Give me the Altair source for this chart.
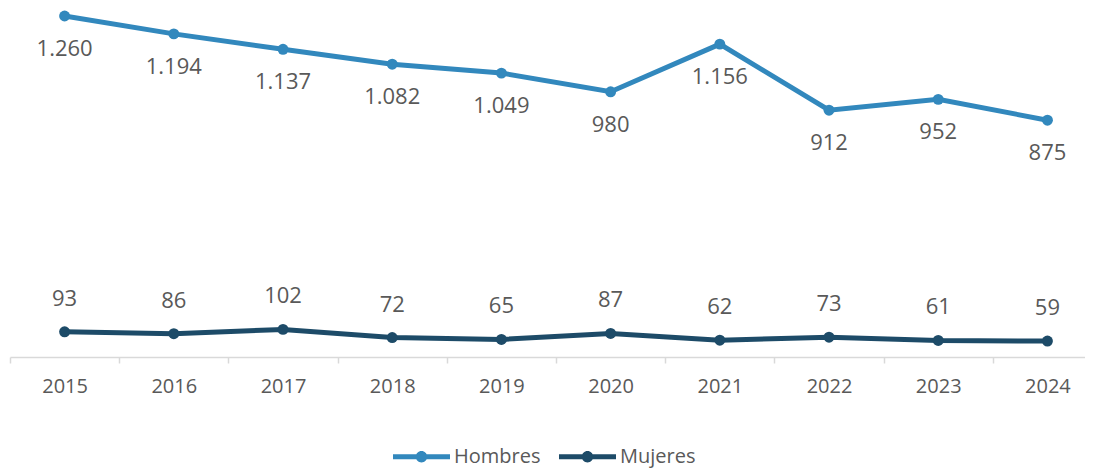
import altair as alt
import pandas as pd

years = [2015, 2016, 2017, 2018, 2019, 2020, 2021, 2022, 2023, 2024]
hombres = [1260, 1194, 1137, 1082, 1049, 980, 1156, 912, 952, 875]
mujeres = [93, 86, 102, 72, 65, 87, 62, 73, 61, 59]
series = ["Hombres", "Mujeres"]
colors = ["#3288bd", "#1d4b68"]
tick_values = [2014.5 + i * 0.5 for i in range(20)]

rows = []
for s, vals in zip(series, [hombres, mujeres]):
    for y, v in zip(years, vals):
        rows.append({"year": y, "serie": s, "value": v,
                     "label": f"{v:,}".replace(",", ".")})
df = pd.DataFrame(rows)

TEXT = "#595959"
FONT = "Open Sans"

x = alt.X("year:Q", title=None,
          scale=alt.Scale(domain=[2014.5, 2024.344], nice=False, zero=False),
          axis=alt.Axis(values=tick_values, labelOverlap=False,
                        labelExpr="(datum.value % 1 == 0) ? ('' + datum.value) : ''",
                        labelAngle=0, labelFontSize=20, labelColor=TEXT, labelFont=FONT,
                        domainColor="#d9d9d9", domainWidth=1.5, tickColor="#d9d9d9",
                        tickOpacity={"condition": {"test": "datum.value % 1 == 0",
                                                   "value": 0},
                                     "value": 1},
                        tickWidth=1.5, tickSize=6, labelPadding=13, grid=False))
y = alt.Y("value:Q", title=None, scale=alt.Scale(domain=[0, 1260], nice=False, zero=True),
          axis=None)
color_scale = alt.Scale(domain=series, range=colors)

base = alt.Chart(df)

lines = base.mark_line(strokeWidth=5).encode(
    x=x, y=y, color=alt.Color("serie:N", scale=color_scale, legend=None))

sym = ("M-1,-0.088L1,-0.088L1,0.088L-1,0.088Z "
       "M0.2,0A0.2,0.2,0,1,1,-0.2,0A0.2,0.2,0,1,1,0.2,0Z")

points = base.mark_circle(size=120, opacity=1).encode(
    x=x, y=y,
    color=alt.Color("serie:N", scale=color_scale,
                    legend=alt.Legend(title=None, orient="none", direction="horizontal",
                                      legendX=383, legendY=412,
                                      symbolType=sym, symbolSize=3249,
                                      symbolStrokeWidth=0, symbolOpacity=1,
                                      labelFontSize=20, labelColor=TEXT, labelFont=FONT,
                                      labelOffset=4, columnPadding=18)))

lab_h = base.transform_filter(alt.datum.serie == "Hombres").mark_text(
    dy=33, fontSize=22, font=FONT, color=TEXT).encode(x=x, y=y, text="label:N")
lab_m = base.transform_filter(alt.datum.serie == "Mujeres").mark_text(
    dy=-33, fontSize=22, font=FONT, color=TEXT).encode(x=x, y=y, text="label:N")

chart = alt.layer(lines, points, lab_h, lab_m).resolve_legend(color="independent").properties(
    width=1075, height=341, background="white",
    autosize=alt.AutoSizeParams(type="none"),
    padding={"left": 2, "top": 8, "right": 0, "bottom": 111},
).configure_view(strokeWidth=0)

chart.save("out.html", embed_options={"renderer": "svg", "actions": False})
